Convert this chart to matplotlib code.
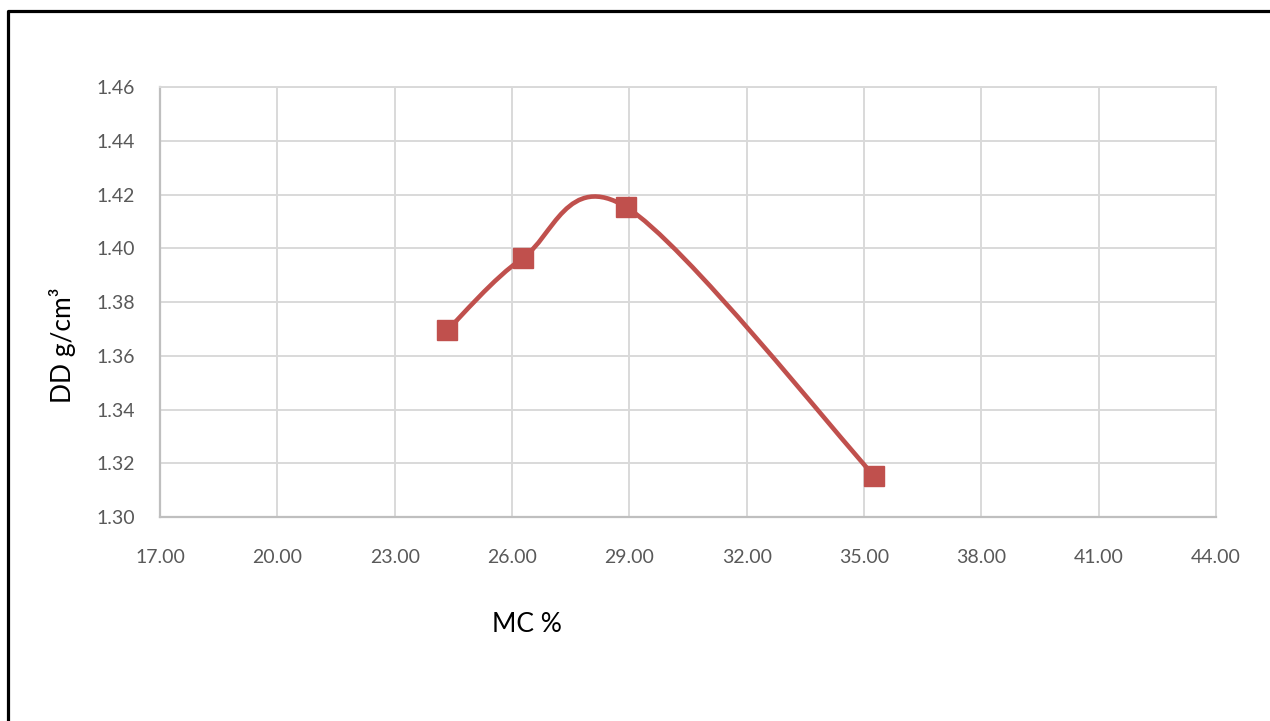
import matplotlib
matplotlib.use("Agg")
import matplotlib.pyplot as plt
from matplotlib.path import Path
from matplotlib.patches import PathPatch
from matplotlib.lines import Line2D
import numpy as np

plt.rcParams['font.family'] = ['Lato', 'DejaVu Sans']

# Data
mc = [24.35, 26.28, 28.92, 35.26]
dd = [1.3696, 1.3964, 1.4153, 1.3153]
x_ticks = [17, 20, 23, 26, 29, 32, 35, 38, 41, 44]
y_ticks = [1.30, 1.32, 1.34, 1.36, 1.38, 1.40, 1.42, 1.44, 1.46]

RED = '#C0504D'
W, H = 1270, 721
fig = plt.figure(figsize=(W / 100, H / 100), dpi=100)
ax = fig.add_axes([160 / W, (H - 517) / H, (1216 - 160) / W, (517 - 87) / H])

ax.set_xlim(x_ticks[0], x_ticks[-1])
ax.set_ylim(y_ticks[0], y_ticks[-1])
ax.set_xticks(x_ticks)
ax.set_yticks(y_ticks)
ax.set_xticklabels([f"{v:.2f}" for v in x_ticks])
ax.set_yticklabels([f"{v:.2f}" for v in y_ticks])
ax.tick_params(axis='both', length=0, labelsize=14, colors='#595959')
ax.tick_params(axis='x', pad=23)
ax.tick_params(axis='y', pad=18)
ax.grid(True, color='#D9D9D9', linewidth=1.4)
ax.set_axisbelow(True)
for s in ['top', 'right']:
    ax.spines[s].set_color('#D9D9D9')
    ax.spines[s].set_linewidth(1.4)
for s in ['left', 'bottom']:
    ax.spines[s].set_color('#BFBFBF')
    ax.spines[s].set_linewidth(1.6)

# Smoothed line (Excel-like Catmull-Rom Bezier)
pts = np.column_stack([mc, dd])
n = len(pts)
verts = [tuple(pts[0])]
codes = [Path.MOVETO]
for i in range(n - 1):
    p0 = pts[i - 1] if i > 0 else pts[i]
    p1 = pts[i]
    p2 = pts[i + 1]
    p3 = pts[i + 2] if i + 2 < n else pts[i + 1]
    c1 = p1 + (p2 - p0) / 6
    c2 = p2 - (p3 - p1) / 6
    verts += [tuple(c1), tuple(c2), tuple(p2)]
    codes += [Path.CURVE4] * 3
ax.add_patch(PathPatch(Path(verts, codes), facecolor='none', edgecolor=RED,
                       linewidth=3.3, capstyle='round', joinstyle='round', zorder=3))
ax.plot(mc, dd, linestyle='none', marker='s', markersize=14, color=RED, zorder=4)

fig.text(527 / W, 1 - 624 / H, 'MC %', ha='center', va='center', fontsize=19, color='black')
fig.text(62 / W, 1 - 345 / H, 'DD g/cm³', ha='center', va='center', rotation=90,
         fontsize=19, color='black')

# outer frame (left and top visible)
fig.add_artist(Line2D([7.5 / W, 7.5 / W, 1.0], [0.0, 1 - 11 / H, 1 - 11 / H],
                      transform=fig.transFigure, color='black', linewidth=2.3))

fig.savefig('out.png', dpi=100)
